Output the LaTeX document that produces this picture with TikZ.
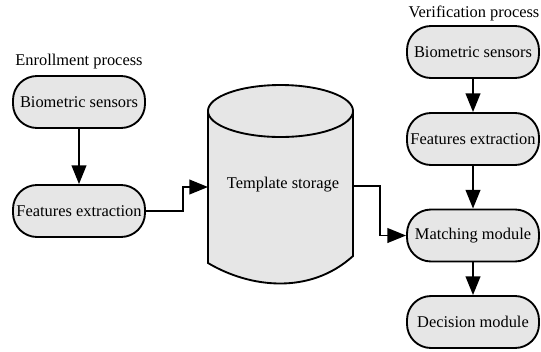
\documentclass[tikz,border=0pt]{standalone}
\usepackage{fontspec}
\setmainfont{Liberation Serif}
\usetikzlibrary{arrows.meta}
\definecolor{boxgray}{RGB}{230,230,230}
\begin{document}
\begin{tikzpicture}[x=0.75pt,y=-0.75pt,font=\fontsize{12.3}{14}\selectfont]

% Style for nodes
\tikzstyle{stage}=[rectangle,rounded corners=18pt,draw,line width=1.4pt,fill=boxgray,minimum width=99pt,minimum height=39pt,inner sep=1pt]
\tikzstyle{caption}=[inner sep=0pt]
% Style for connectors
\tikzstyle{arr}=[line width=1.4pt,-{Triangle[width=11pt,length=14pt]}]
\useasboundingbox (0,0) rectangle (541,351);
% Enrollment side
\node(enroll)[caption] at (79,62){Enrollment process};
\node(bioL)[stage] at (79,102){Biometric sensors};
\node(featL)[stage] at (79,211){Features extraction};
% The storage
\fill[boxgray] (208,111) -- (208,263) .. controls (250,288) and (310,295) .. (353,256) -- (353,111) -- cycle;
\draw[line width=1.4pt] (208,111) -- (208,263) .. controls (250,288) and (310,295) .. (353,256) -- (353,111);
\draw[line width=1.4pt,fill=boxgray] (280.5,111) ellipse [x radius=54.4pt,y radius=19.5pt];
\node(store)[caption] at (283,185){Template storage};
\coordinate(cylW) at (208,187);
\coordinate(cylE) at (353,186);
% Verification side
\node(verify)[caption] at (474,13){Verification process};
\node(bioR)[stage] at (473,52){Biometric sensors};
\node(featR)[stage] at (473,139){Features extraction};
\node(match)[stage] at (473,235.5){Matching module};
\node(decide)[stage] at (473,322){Decision module};
% Connectors
\draw[arr](bioL)--(featL);
\draw[arr](featL.east)--++(37,0)|-(cylW);
\draw[arr](cylE)--++(27,0)|-(match.west);
\draw[arr](bioR)--(featR);
\draw[arr](featR)--(match);
\draw[arr](match)--(decide);
\end{tikzpicture}
\end{document}
